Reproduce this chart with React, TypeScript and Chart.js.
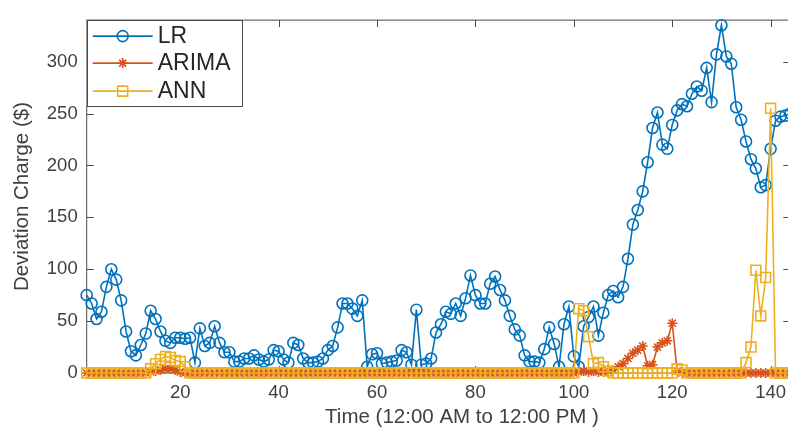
import React, { useEffect, useRef } from "react";
import { Chart, registerables } from "chart.js";

Chart.register(...registerables);

// ---- data ----
const TIME_INDEX = Array.from({ length: 144 }, (_, i) => i + 1);

const LR = [
  75, 67, 52, 59, 83, 100, 90, 70, 40, 21,
  17, 27, 38, 60, 52, 40, 31, 29, 34, 34,
  33, 34, 10, 43, 26, 29, 45, 29, 20, 20,
  11, 11, 14, 14, 17, 13, 11, 13, 22, 21,
  13, 10, 29, 27, 14, 10, 10, 11, 14, 22,
  26, 44, 67, 67, 62, 55, 70, 6, 18, 19,
  9, 10, 11, 12, 22, 20, 8, 61, 8, 9,
  14, 39, 47, 59, 57, 67, 55, 72, 94, 75,
  67, 67, 86, 93, 80, 70, 55, 42, 36, 17,
  11, 11, 10, 23, 44, 28, 6, 47, 64, 16,
  6, 45, 54, 64, 36, 58, 75, 79, 73, 83,
  110, 143, 157, 175, 203, 236, 251, 220, 216, 239,
  253, 259, 257, 269, 276, 272, 294, 261, 307, 335,
  305, 298, 256, 244, 223, 206, 197, 179, 181, 216,
  243, 247, 248, 250,
];

const ARIMA = [
  0, 0, 0, 0, 0, 0, 0, 0, 0, 0,
  0, 0, 0, 1, 2, 3, 4, 4, 3, 1,
  0, 0, 0, 0, 0, 0, 0, 0, 0, 0,
  0, 0, 0, 0, 0, 0, 0, 0, 0, 0,
  0, 0, 0, 0, 0, 0, 0, 0, 0, 0,
  0, 0, 0, 0, 0, 0, 0, 0, 0, 0,
  0, 0, 0, 0, 0, 0, 0, 0, 0, 0,
  0, 0, 0, 0, 0, 0, 0, 0, 0, 0,
  0, 0, 0, 0, 0, 0, 0, 0, 0, 0,
  0, 0, 0, 0, 0, 0, 0, 0, 0, 0,
  1, 2, 1, 2, 1, 1, 2, 3, 6, 9,
  14, 19, 22, 26, 7, 8, 25, 29, 31, 48,
  2, 0, 0, 0, 0, 0, 0, 0, 0, 0,
  0, 0, 0, 0, 0, 0, 0, 0, 0, 0,
  0, 0, 0, 0,
];

const ANN = [
  0, 0, 0, 0, 0, 0, 0, 0, 0, 0,
  0, 0, 0, 4, 9, 13, 16, 15, 12, 11,
  6, 0, 0, 0, 0, 0, 0, 0, 0, 0,
  0, 0, 0, 0, 0, 0, 0, 0, 0, 0,
  0, 0, 0, 0, 0, 0, 0, 0, 0, 0,
  0, 0, 0, 0, 0, 0, 0, 0, 0, 0,
  0, 0, 0, 0, 0, 0, 0, 0, 0, 0,
  0, 0, 0, 0, 0, 0, 0, 0, 0, 0,
  0, 0, 0, 0, 0, 0, 0, 0, 0, 0,
  0, 0, 0, 0, 0, 0, 0, 0, 0, 0,
  62, 60, 35, 9, 10, 6, 2, 0, 0, 0,
  0, 0, 0, 0, 0, 0, 0, 0, 0, 0,
  4, 3, 0, 0, 0, 0, 0, 0, 0, 0,
  0, 0, 0, 0, 10, 25, 99, 55, 92, 255,
  0, 0, 0, 0,
];

const X_TICKS = [20, 40, 60, 80, 100, 120, 140];
const Y_TICKS = [0, 50, 100, 150, 200, 250, 300];
const SERIES_NAMES = ["LR", "ARIMA", "ANN"];
const SERIES_COLORS = ["#0072BD", "#D95319", "#EDB120"];
const SERIES_MARKERS = ["circle", "star", "rect"];
const X_TITLE = "Time (12:00 AM to 12:00 PM )";
const Y_TITLE = "Deviation Charge ($)";

const FONT = '"Liberation Sans", Arial, Helvetica, sans-serif';
const TEXT_COLOR = "#404040";
const AXIS_COLOR = "#4a4a4a";

function drawMarker(ctx: CanvasRenderingContext2D, kind: string, x: number, y: number, color: string) {
  ctx.save();
  ctx.strokeStyle = color;
  ctx.lineWidth = 1.6;
  ctx.beginPath();
  if (kind === "circle") {
    ctx.arc(x, y, 5.5, 0, Math.PI * 2);
  } else if (kind === "rect") {
    ctx.rect(x - 5, y - 5, 10, 10);
  } else {
    const r = 5;
    const d = r * Math.SQRT1_2;
    ctx.moveTo(x - r, y); ctx.lineTo(x + r, y);
    ctx.moveTo(x, y - r); ctx.lineTo(x, y + r);
    ctx.moveTo(x - d, y - d); ctx.lineTo(x + d, y + d);
    ctx.moveTo(x - d, y + d); ctx.lineTo(x + d, y - d);
  }
  ctx.stroke();
  ctx.restore();
}

const framePlugin = {
  id: "matlabFrame",
  beforeDatasetsDraw(chart: any) {
    const { ctx, chartArea, scales } = chart;
    const { left, top, right, bottom } = chartArea;
    ctx.save();
    ctx.strokeStyle = AXIS_COLOR;
    ctx.lineWidth = 1;
    ctx.strokeRect(left, top, right - left, bottom - top);
    const tl = 7;
    ctx.beginPath();
    X_TICKS.forEach((v) => {
      const px = Math.round(scales.x.getPixelForValue(v)) + 0.5;
      ctx.moveTo(px, bottom); ctx.lineTo(px, bottom - tl);
      ctx.moveTo(px, top); ctx.lineTo(px, top + tl);
    });
    Y_TICKS.forEach((v) => {
      const py = Math.round(scales.y.getPixelForValue(v)) + 0.5;
      ctx.moveTo(left, py); ctx.lineTo(left + tl, py);
      ctx.moveTo(right, py); ctx.lineTo(right - tl, py);
    });
    ctx.stroke();

    // x-axis title (placed as in the reference, slightly right of centre)
    ctx.fillStyle = TEXT_COLOR;
    ctx.font = `20.5px ${FONT}`;
    ctx.textAlign = "center";
    ctx.textBaseline = "middle";
    ctx.fillText(X_TITLE, 462, 417);
    ctx.restore();
  },
  afterDraw(chart: any) {
    const { ctx, chartArea } = chart;
    const bx = chartArea.left;
    const by = chartArea.top;
    const bw = 155;
    const bh = 86;
    ctx.save();
    ctx.fillStyle = "#ffffff";
    ctx.fillRect(bx, by, bw, bh);
    ctx.strokeStyle = AXIS_COLOR;
    ctx.lineWidth = 1;
    ctx.strokeRect(Math.round(bx) + 0.5, Math.round(by) + 0.5, bw, bh);
    const rows = [by + 16, by + 43, by + 71];
    SERIES_NAMES.forEach((name, i) => {
      const y = rows[i];
      ctx.strokeStyle = SERIES_COLORS[i];
      ctx.lineWidth = 1.6;
      ctx.beginPath();
      ctx.moveTo(bx + 6, y);
      ctx.lineTo(bx + 66, y);
      ctx.stroke();
      drawMarker(ctx, SERIES_MARKERS[i], bx + 36, y, SERIES_COLORS[i]);
      ctx.fillStyle = "#262626";
      ctx.font = `23px ${FONT}`;
      ctx.textBaseline = "middle";
      ctx.textAlign = "left";
      ctx.fillText(name, bx + 71, y + 1);
    });
    ctx.restore();
  },
};

export default function App() {
  const canvasRef = useRef<HTMLCanvasElement | null>(null);

  useEffect(() => {
    const canvas = canvasRef.current;
    if (!canvas) return;
    const mk = (values: number[]) => TIME_INDEX.map((t, i) => ({ x: t, y: values[i] }));
    const common = {
      tension: 0,
      borderWidth: 1.6,
      pointBorderWidth: 1.6,
      pointBackgroundColor: "rgba(0,0,0,0)",
      clip: false as any,
      fill: false,
    };
    const chart = new Chart(canvas, {
      type: "line",
      data: {
        datasets: [
          {
            ...common,
            label: SERIES_NAMES[0],
            data: mk(LR),
            borderColor: SERIES_COLORS[0],
            pointBorderColor: SERIES_COLORS[0],
            pointStyle: "circle",
            pointRadius: 5.5,
            order: 3,
          },
          {
            ...common,
            label: SERIES_NAMES[1],
            data: mk(ARIMA),
            borderColor: SERIES_COLORS[1],
            pointBorderColor: SERIES_COLORS[1],
            pointStyle: "star",
            pointRadius: 5,
            order: 2,
          },
          {
            ...common,
            label: SERIES_NAMES[2],
            data: mk(ANN),
            borderColor: SERIES_COLORS[2],
            pointBorderColor: SERIES_COLORS[2],
            pointStyle: "rect",
            pointRadius: 7,
            order: 1,
          },
        ],
      },
      options: {
        responsive: false,
        maintainAspectRatio: false,
        devicePixelRatio: 1,
        animation: false,
        events: [],
        layout: { padding: { top: 9.3, right: 9.7, left: 0, bottom: 0 } },
        plugins: {
          legend: { display: false },
          tooltip: { enabled: false },
        },
        scales: {
          x: {
            type: "linear",
            min: 1,
            max: 144,
            afterBuildTicks: (s: any) => {
              s.ticks = X_TICKS.map((v) => ({ value: v }));
            },
            afterFit: (s: any) => {
              s.height = 59;
            },
            ticks: {
              autoSkip: false,
              maxRotation: 0,
              padding: 9,
              color: TEXT_COLOR,
              font: { family: FONT, size: 18.5 },
            },
            grid: { display: false, drawTicks: false },
            border: { display: false },
            title: { display: false },
          },
          y: {
            type: "linear",
            min: 0,
            max: 340,
            afterBuildTicks: (s: any) => {
              s.ticks = Y_TICKS.map((v) => ({ value: v }));
            },
            afterFit: (s: any) => {
              s.width = 86.7;
            },
            ticks: {
              padding: 9,
              color: TEXT_COLOR,
              font: { family: FONT, size: 18.5 },
            },
            grid: { display: false, drawTicks: false },
            border: { display: false },
            title: {
              display: true,
              text: Y_TITLE,
              color: TEXT_COLOR,
              font: { family: FONT, size: 20.5 },
              padding: { top: 10, bottom: 0 },
            },
          },
        },
      },
      plugins: [framePlugin],
    });
    return () => chart.destroy();
  }, []);

  return (
    <div
      style={{
        position: "absolute",
        left: 0,
        top: 0,
        width: 788,
        height: 432,
        overflow: "hidden",
        background: "#ffffff",
      }}
    >
      <canvas ref={canvasRef} width={800} height={432} style={{ display: "block", width: 800, height: 432 }} />
    </div>
  );
}
